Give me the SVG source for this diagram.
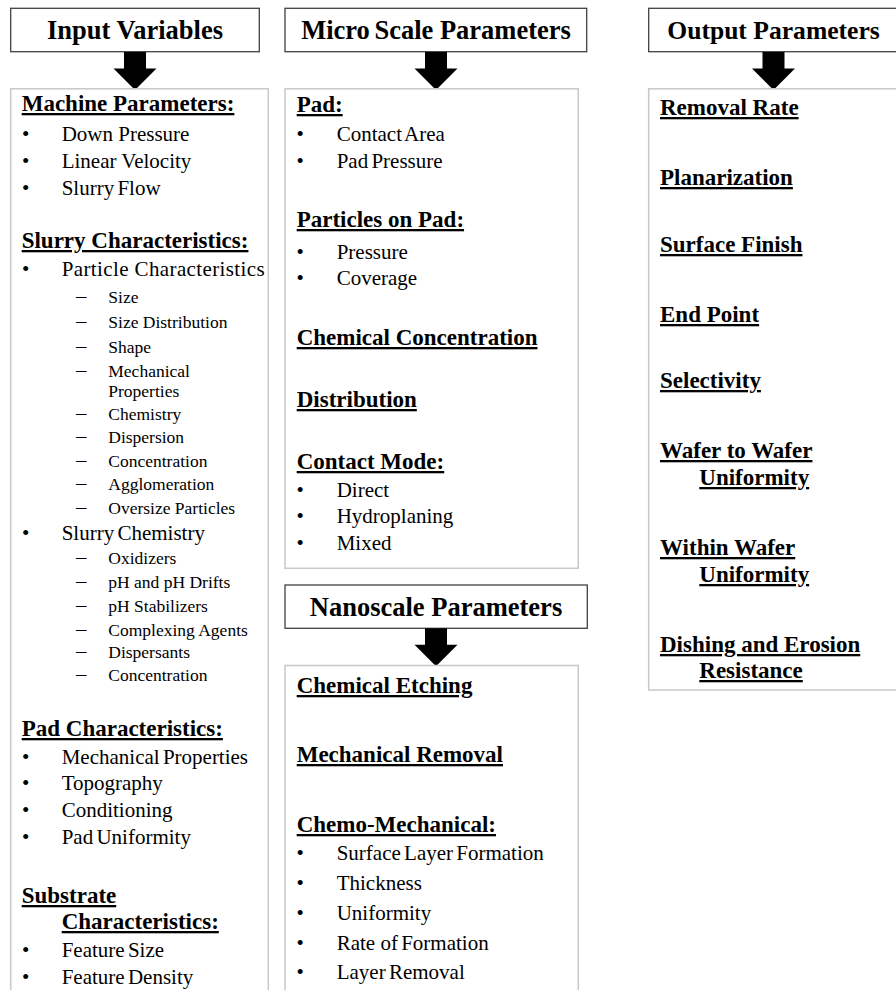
<svg xmlns="http://www.w3.org/2000/svg" xmlns:xlink="http://www.w3.org/1999/xlink" width="896" height="990" viewBox="0 0 896 990">
<style>
text{font-family:"Liberation Serif","Times New Roman",serif;fill:#000}
.hb{fill:#fff;stroke:#404040;stroke-width:1.3}
.cb{fill:#fff;stroke:#c8c8c8;stroke-width:1.5}
.ht{font-size:26.5px;font-weight:bold;text-anchor:middle}
.sh{font-size:23px;font-weight:bold;text-decoration:underline;text-decoration-thickness:2.5px;text-underline-offset:3px}
.i1{font-size:21px}
.i2{font-size:17.5px}
.d{font-size:21px}
.tg{word-spacing:-2px}
.arrow{fill:#000}
</style>
<defs>
<path id="blk" d="M-11,0 H11 V16.5 H21.5 L0,38 L-21.5,16.5 H-11 Z"/>
</defs>
<rect width="896" height="990" fill="#fff"/>

<g id="input-header">
<rect class="hb" x="10.7" y="8.3" width="248.6" height="43.4"/>
<text class="ht" x="135" y="39">Input Variables</text>
</g>
<g id="micro-header">
<rect class="hb" x="285" y="8.3" width="301.7" height="43.4"/>
<text class="ht" x="436" y="39">Micro<tspan class="tg"> Scale</tspan> Parameters</text>
</g>
<g id="output-header">
<rect class="hb" x="648.7" y="8.3" width="250" height="43.4"/>
<text class="ht" x="773.5" y="39" style="font-size:25.6px">Output Parameters</text>
</g>
<g id="nano-header">
<rect class="hb" x="285" y="585" width="302.3" height="43.3"/>
<text class="ht" x="436" y="615.5">Nanoscale Parameters</text>
</g>

<g id="connectors" class="arrow">
<use xlink:href="#blk" href="#blk" transform="translate(135,52)"/>
<use xlink:href="#blk" href="#blk" transform="translate(436,52)"/>
<use xlink:href="#blk" href="#blk" transform="translate(773.5,52)"/>
<use xlink:href="#blk" href="#blk" transform="translate(436,628.3)"/>
</g>

<g id="input-list">
<rect class="cb" x="10.7" y="88.8" width="257.6" height="920"/>
<text class="sh" x="21.7" y="111">Machine Parameters:</text>
<text class="i1" x="22" y="141">•</text><text class="i1" x="61.7" y="141">Down Pressure</text>
<text class="i1" x="22" y="168">•</text><text class="i1" x="61.7" y="168">Linear Velocity</text>
<text class="i1" x="22" y="195">•</text><text class="i1 tg" x="61.7" y="195">Slurry Flow</text>
<text class="sh" x="21.7" y="248">Slurry Characteristics:</text>
<text class="i1" x="22" y="276">•</text><text class="i1" x="61.7" y="276" textLength="203" lengthAdjust="spacing">Particle Characteristics</text>
<text class="d" x="76" y="303">–</text><text class="i2" x="108.3" y="303">Size</text>
<text class="d" x="76" y="328">–</text><text class="i2" x="108.3" y="328">Size Distribution</text>
<text class="d" x="76" y="353">–</text><text class="i2" x="108.3" y="353">Shape</text>
<text class="d" x="76" y="377">–</text><text class="i2" x="108.3" y="377">Mechanical</text>
<text class="i2" x="108.3" y="397">Properties</text>
<text class="d" x="76" y="420">–</text><text class="i2" x="108.3" y="420">Chemistry</text>
<text class="d" x="76" y="443">–</text><text class="i2" x="108.3" y="443">Dispersion</text>
<text class="d" x="76" y="467">–</text><text class="i2" x="108.3" y="467">Concentration</text>
<text class="d" x="76" y="490">–</text><text class="i2" x="108.3" y="490">Agglomeration</text>
<text class="d" x="76" y="514">–</text><text class="i2" x="108.3" y="514">Oversize Particles</text>
<text class="i1" x="22" y="540">•</text><text class="i1 tg" x="61.7" y="540">Slurry Chemistry</text>
<text class="d" x="76" y="564">–</text><text class="i2" x="108.3" y="564">Oxidizers</text>
<text class="d" x="76" y="588">–</text><text class="i2" x="108.3" y="588">pH and pH Drifts</text>
<text class="d" x="76" y="612">–</text><text class="i2" x="108.3" y="612">pH Stabilizers</text>
<text class="d" x="76" y="636">–</text><text class="i2" x="108.3" y="636">Complexing Agents</text>
<text class="d" x="76" y="658">–</text><text class="i2" x="108.3" y="658">Dispersants</text>
<text class="d" x="76" y="681">–</text><text class="i2" x="108.3" y="681">Concentration</text>
<text class="sh" x="21.7" y="736">Pad Characteristics:</text>
<text class="i1" x="22" y="764">•</text><text class="i1 tg" x="61.7" y="764">Mechanical Properties</text>
<text class="i1" x="22" y="790">•</text><text class="i1" x="61.7" y="790">Topography</text>
<text class="i1" x="22" y="817">•</text><text class="i1" x="61.7" y="817">Conditioning</text>
<text class="i1" x="22" y="844">•</text><text class="i1 tg" x="61.7" y="844">Pad Uniformity</text>
<text class="sh" x="21.7" y="903">Substrate</text>
<text class="sh" x="61.7" y="929">Characteristics:</text>
<text class="i1" x="22" y="957">•</text><text class="i1 tg" x="61.7" y="957">Feature Size</text>
<text class="i1" x="22" y="984">•</text><text class="i1 tg" x="61.7" y="984">Feature Density</text>
</g>

<g id="micro-list">
<rect class="cb" x="285" y="88.8" width="293.3" height="479.5"/>
<text class="sh" x="296.7" y="112">Pad:</text>
<text class="i1" x="296.5" y="141">•</text><text class="i1 tg" x="336.7" y="141">Contact Area</text>
<text class="i1" x="296.5" y="168">•</text><text class="i1 tg" x="336.7" y="168">Pad Pressure</text>
<text class="sh" x="296.7" y="227">Particles on Pad:</text>
<text class="i1" x="296.5" y="259">•</text><text class="i1" x="336.7" y="259">Pressure</text>
<text class="i1" x="296.5" y="285">•</text><text class="i1" x="336.7" y="285">Coverage</text>
<text class="sh" x="296.7" y="345">Chemical Concentration</text>
<text class="sh" x="296.7" y="407">Distribution</text>
<text class="sh" x="296.7" y="469">Contact Mode:</text>
<text class="i1" x="296.5" y="497">•</text><text class="i1" x="336.7" y="497">Direct</text>
<text class="i1" x="296.5" y="523">•</text><text class="i1" x="336.7" y="523">Hydroplaning</text>
<text class="i1" x="296.5" y="550">•</text><text class="i1" x="336.7" y="550">Mixed</text>
</g>

<g id="nano-list">
<rect class="cb" x="285" y="665.5" width="293.3" height="340"/>
<text class="sh" x="296.7" y="693">Chemical Etching</text>
<text class="sh" x="296.7" y="762">Mechanical Removal</text>
<text class="sh" x="296.7" y="832">Chemo-Mechanical:</text>
<text class="i1" x="296.5" y="860">•</text><text class="i1 tg" x="336.7" y="860">Surface Layer Formation</text>
<text class="i1" x="296.5" y="890">•</text><text class="i1" x="336.7" y="890">Thickness</text>
<text class="i1" x="296.5" y="920">•</text><text class="i1" x="336.7" y="920">Uniformity</text>
<text class="i1" x="296.5" y="950">•</text><text class="i1" x="336.7" y="950">Rate of<tspan class="tg"> Formation</tspan></text>
<text class="i1" x="296.5" y="979">•</text><text class="i1 tg" x="336.7" y="979">Layer Removal</text>
</g>

<g id="output-list">
<rect class="cb" x="648.7" y="88.8" width="260" height="601.2"/>
<text class="sh" x="660" y="115">Removal Rate</text>
<text class="sh" x="660" y="185">Planarization</text>
<text class="sh" x="660" y="252">Surface Finish</text>
<text class="sh" x="660" y="322">End Point</text>
<text class="sh" x="660" y="388">Selectivity</text>
<text class="sh" x="660" y="458">Wafer to Wafer</text>
<text class="sh" x="699.3" y="485">Uniformity</text>
<text class="sh" x="660" y="555">Within Wafer</text>
<text class="sh" x="699.3" y="582">Uniformity</text>
<text class="sh" x="660" y="652">Dishing and Erosion</text>
<text class="sh" x="699.3" y="678">Resistance</text>
</g>
</svg>
